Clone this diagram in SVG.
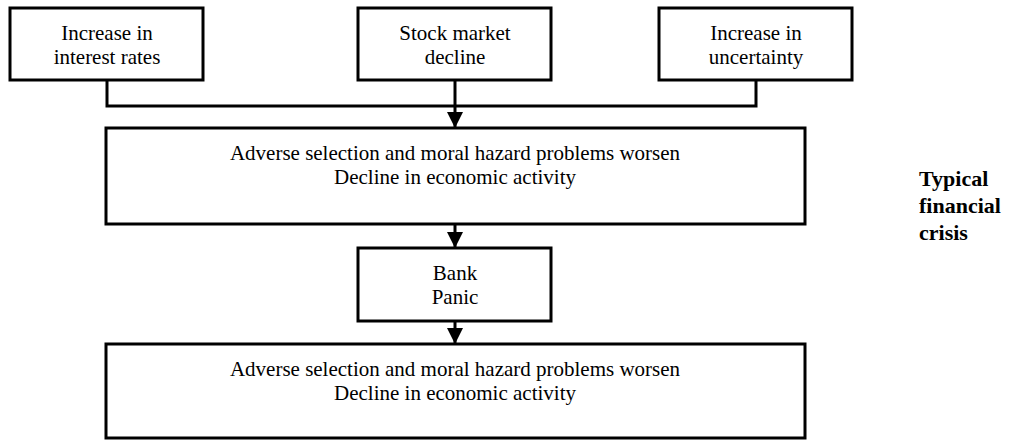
<svg xmlns="http://www.w3.org/2000/svg" width="1012" height="441" viewBox="0 0 1012 441">
<style>
.box{fill:#fff;stroke:#000;stroke-width:3}
.t{font-family:"Liberation Serif","Times New Roman",serif;font-size:21px;fill:#000;text-anchor:middle}
.b{font-family:"Liberation Serif","Times New Roman",serif;font-size:22px;font-weight:bold;fill:#000}
.c{fill:none;stroke:#000;stroke-width:3}
</style>
<defs>
<marker id="ah" markerUnits="userSpaceOnUse" markerWidth="18" markerHeight="16" refX="16" refY="8" orient="auto" viewBox="0 0 16 16">
<path d="M0,0 L16,8 L0,16 Z" fill="#000"/>
</marker>
</defs>
<g id="connectors">
<path class="c" d="M107,80 V106 H756 V80"/>
<path class="c" d="M455,80 V128" marker-end="url(#ah)"/>
<path class="c" d="M455,224 V248" marker-end="url(#ah)"/>
<path class="c" d="M455,321 V344" marker-end="url(#ah)"/>
</g>
<g id="n1">
<rect class="box" x="10" y="8" width="193" height="72"/>
<text class="t" x="107" y="40">Increase in</text>
<text class="t" x="107" y="64">interest rates</text>
</g>
<g id="n2">
<rect class="box" x="358" y="8" width="193" height="72"/>
<text class="t" x="455" y="40">Stock market</text>
<text class="t" x="455" y="64">decline</text>
</g>
<g id="n3">
<rect class="box" x="659" y="8" width="193" height="72"/>
<text class="t" x="756" y="40">Increase in</text>
<text class="t" x="756" y="64">uncertainty</text>
</g>
<g id="n4">
<rect class="box" x="106" y="128" width="699" height="96"/>
<text class="t" x="455" y="160">Adverse selection and moral hazard problems worsen</text>
<text class="t" x="455" y="184">Decline in economic activity</text>
</g>
<g id="n5">
<rect class="box" x="358" y="248" width="193" height="73"/>
<text class="t" x="455" y="280">Bank</text>
<text class="t" x="455" y="304">Panic</text>
</g>
<g id="n6">
<rect class="box" x="106" y="344" width="699" height="94"/>
<text class="t" x="455" y="376">Adverse selection and moral hazard problems worsen</text>
<text class="t" x="455" y="400">Decline in economic activity</text>
</g>
<g id="label">
<text class="b" x="919" y="186">Typical</text>
<text class="b" x="919" y="213">financial</text>
<text class="b" x="919" y="240">crisis</text>
</g>
</svg>
